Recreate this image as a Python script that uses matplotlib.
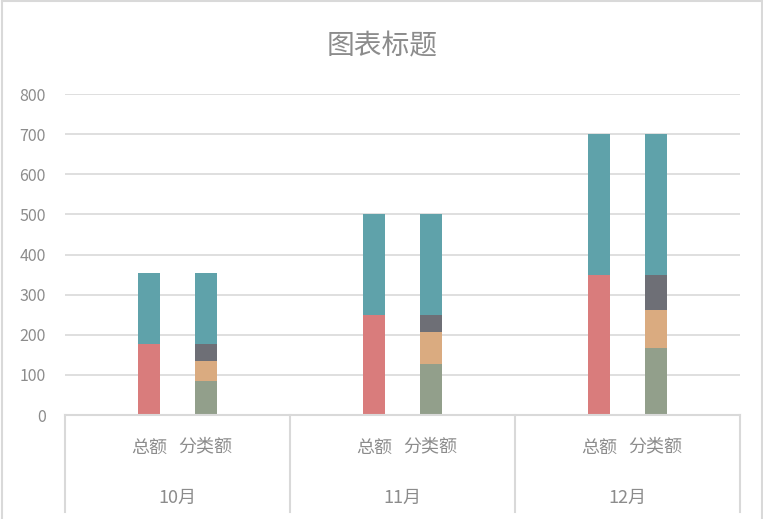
import matplotlib
matplotlib.use("Agg")
import matplotlib.pyplot as plt
from matplotlib.lines import Line2D

plt.rcParams['font.family'] = ['Noto Sans CJK SC', 'DejaVu Sans']

months = ['10月', '11月', '12月']
sub_labels = ['总额', '分类额']

# 总额 stack
total_low = [177, 250, 350]
total_high = [178, 250, 350]
# 分类额 stack
cat_a = [85, 127, 166]
cat_b = [50, 80, 96]
cat_c = [42, 43, 88]
cat_d = [178, 250, 350]

c_teal = '#5FA2AA'
c_red = '#D97C7C'
c_green = '#929F8B'
c_orange = '#DAAB80'
c_gray = '#6E6F76'
c_grid = '#D9D9D9'
c_text = '#8C8C8C'

fig = plt.figure(figsize=(7.63, 5.19), dpi=100)
ax = fig.add_axes([65 / 763, 104 / 519, 675 / 763, 321 / 519])

bw = 0.39
x_tot = [i * 4 + 1.5 for i in range(3)]
x_cat = [i * 4 + 2.5 for i in range(3)]

ax.bar(x_tot, total_low, bw, color=c_red, zorder=3)
ax.bar(x_tot, total_high, bw, bottom=total_low, color=c_teal, zorder=3)

b = [0, 0, 0]
for vals, col in [(cat_a, c_green), (cat_b, c_orange), (cat_c, c_gray), (cat_d, c_teal)]:
    ax.bar(x_cat, vals, bw, bottom=b, color=col, zorder=3)
    b = [p + q for p, q in zip(b, vals)]

ax.set_xlim(0, 12)
ax.set_ylim(0, 800)
ax.set_yticks(range(0, 801, 100))
ax.set_xticks([])
for s in ax.spines.values():
    s.set_visible(False)
ax.grid(axis='y', color=c_grid, linewidth=1.2, zorder=0)
ax.tick_params(axis='y', length=0, pad=14, labelsize=11.5, labelcolor=c_text)
for t in ax.get_yticklabels():
    t.set_fontweight('light')

# multi-level category axis
tr = ax.get_xaxis_transform()
ax.plot([0, 12], [0, 0], color=c_grid, lw=1.5, transform=tr, clip_on=False, zorder=4)
for xv in [0, 4, 8, 12]:
    ax.plot([xv, xv], [0, -0.302], color=c_grid, lw=1.5, transform=tr, clip_on=False)
for i in range(3):
    # small nudges: the two labels render a few px apart otherwise
    ax.text(x_tot[i], -0.121, sub_labels[0], transform=tr, ha='center', va='baseline',
            fontsize=13, color=c_text, fontweight='light')
    ax.text(x_cat[i], -0.112, sub_labels[1], transform=tr, ha='center', va='baseline',
            fontsize=13, color=c_text, fontweight='light')
    ax.text(i * 4 + 2, -0.273, months[i], transform=tr, ha='center', va='baseline',
            fontsize=13, color=c_text, fontweight='light')

fig.text(382 / 763, 1 - 54 / 519, '图表标题', ha='center', va='baseline',
         fontsize=20, color=c_text, fontweight='light')

# chart border
for xs, ys in [([2, 2], [0, 518]), ([2, 762], [518, 518]), ([762, 762], [518, 0])]:
    fig.add_artist(Line2D([v / 763 for v in xs], [v / 519 for v in ys], color=c_grid, lw=1.5))

fig.savefig('out.png', dpi=100)
